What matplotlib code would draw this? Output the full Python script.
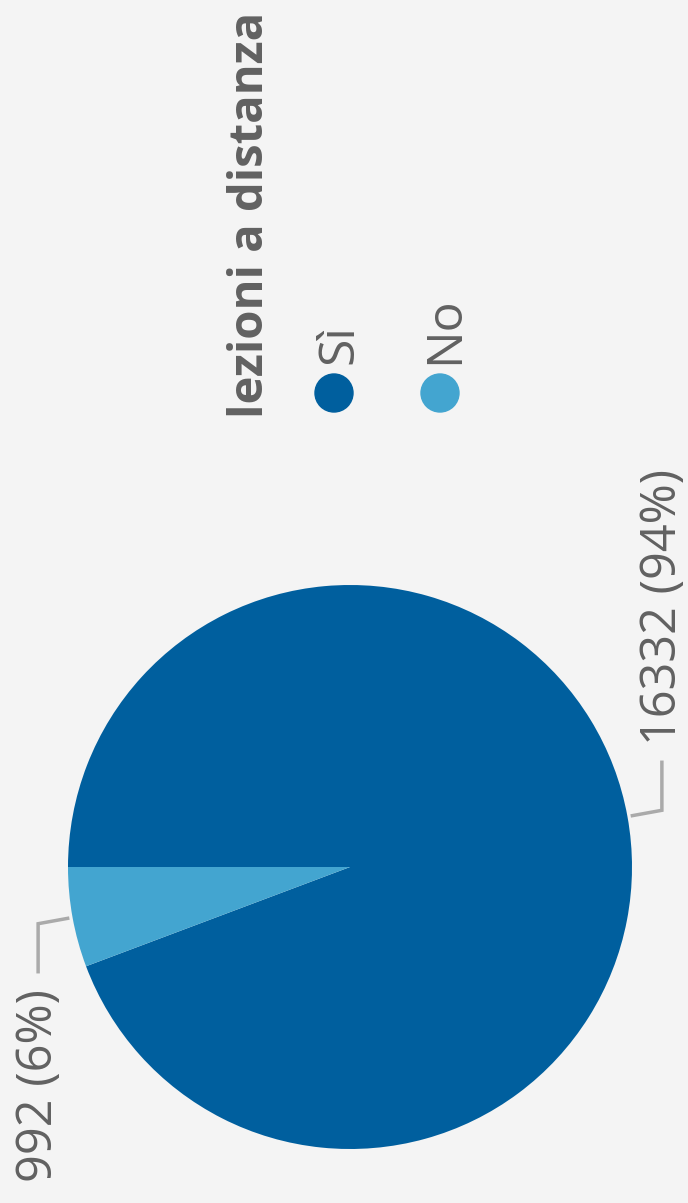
import numpy as np
import matplotlib.pyplot as plt
from matplotlib.patches import Circle

title = "lezioni a distanza"
categories = ["Sì", "No"]
values = [16332, 992]
colors = ["#005f9e", "#43a5d0"]

W, H = 688, 1203
bg = "#f4f4f4"
text_col = "#616161"
line_col = "#aaaaaa"

plt.rcParams['font.family'] = ['Open Sans', 'DejaVu Sans']

fig = plt.figure(figsize=(W / 100, H / 100), dpi=100, facecolor=bg)
ax = fig.add_axes([0, 0, 1, 1])
ax.set_facecolor(bg)

# chart is drawn turned a quarter turn, so all text runs bottom to top
cx, cy, r = 350, H - 867, 282
wedges, _ = ax.pie(values, colors=colors, startangle=180, counterclock=False,
                   center=(cx, cy), radius=r, frame=True)
ax.set_xlim(0, W)
ax.set_ylim(0, H)
ax.set_aspect('equal')
ax.axis('off')

total = sum(values)
for w, v in zip(wedges, values):
    mid = np.deg2rad((w.theta1 + w.theta2) / 2)
    d = np.array([np.cos(mid), np.sin(mid)])
    p1 = np.array([cx, cy]) + 287 * d
    p2 = np.array([cx, cy]) + 317 * d
    up = 1 if d[0] > 0 else -1
    p3 = p2 + np.array([0, 48 * up])
    ax.plot([p1[0], p2[0], p3[0]], [p1[1], p2[1], p3[1]], color=line_col, lw=2.5,
            solid_joinstyle='miter')
    label = f"{v} ({round(100 * v / total)}%)"
    ax.text(p3[0] + 14, p3[1] + 17 * up, label, rotation=90, rotation_mode='anchor',
            ha='left' if up > 0 else 'right', va='baseline', fontsize=35, color=text_col)

# title and legend
ax.text(263, H - 418, title, rotation=90, rotation_mode='anchor', ha='left',
        va='baseline', fontsize=34, fontweight='bold', color=text_col)
for i, (cat, col) in enumerate(zip(categories, colors)):
    x = 334 + 106 * i
    ax.add_patch(Circle((x, H - 393), 19, color=col))
    ax.text(x + 18, H - 364, cat, rotation=90, rotation_mode='anchor', ha='left',
            va='baseline', fontsize=36, color=text_col)

fig.savefig("out.png", dpi=100, facecolor=bg)
